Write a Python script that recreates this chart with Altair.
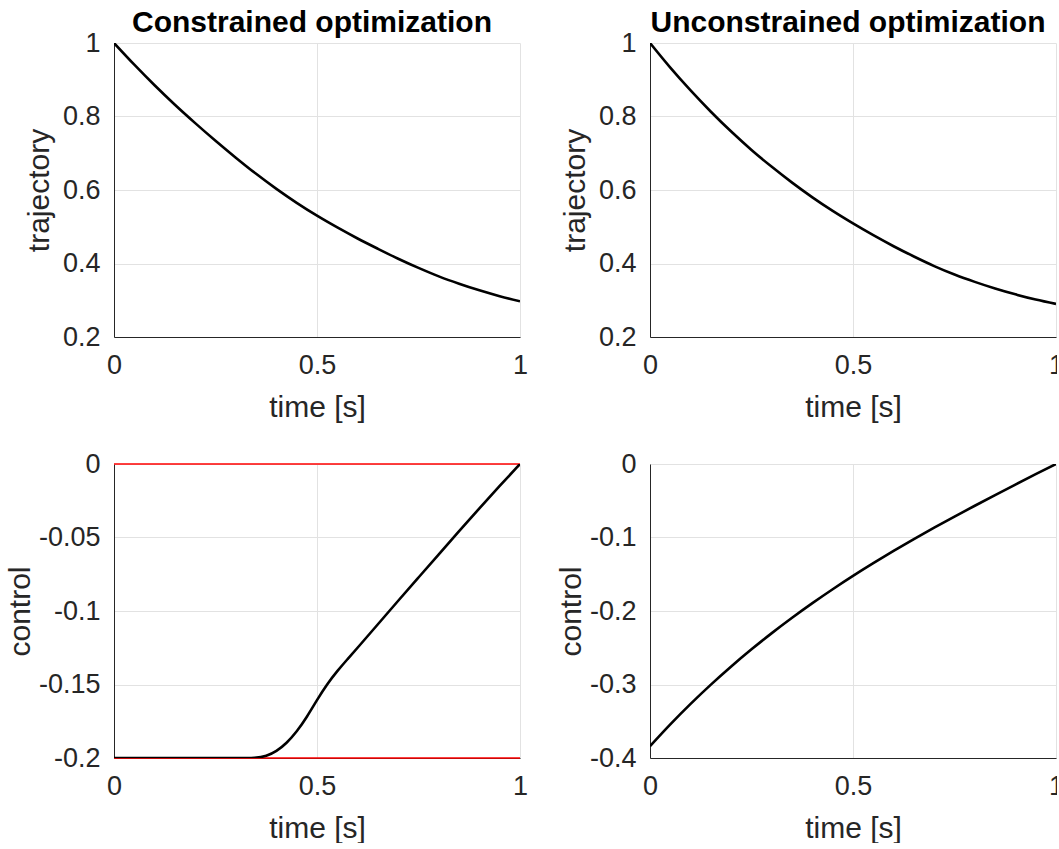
import altair as alt
import pandas as pd

# ---- data ----
time_s = [0.00, 0.05, 0.10, 0.15, 0.20, 0.25, 0.30, 0.35, 0.40, 0.45, 0.50,
          0.55, 0.60, 0.65, 0.70, 0.75, 0.80, 0.85, 0.90, 0.95, 1.00]

traj_constrained = [1.000, 0.941, 0.885, 0.832, 0.782, 0.734, 0.688, 0.644, 0.603, 0.565, 0.530,
                    0.498, 0.468, 0.440, 0.413, 0.388, 0.365, 0.345, 0.327, 0.311, 0.297]

traj_unconstrained = [1.000, 0.933, 0.871, 0.813, 0.759, 0.709, 0.663, 0.620, 0.580, 0.543, 0.509,
                      0.477, 0.447, 0.419, 0.393, 0.370, 0.350, 0.332, 0.316, 0.302, 0.290]

ctrl_con_time = [0.00, 0.10, 0.20, 0.30, 0.35, 0.375, 0.40, 0.425, 0.45, 0.475, 0.50,
                 0.525, 0.55, 0.575, 0.60, 0.65, 0.70, 0.75, 0.80, 0.85, 0.90, 0.95, 1.00]
ctrl_constrained = [-0.2000, -0.2000, -0.2000, -0.2000, -0.2000, -0.1988, -0.1955, -0.1900, -0.1822,
                    -0.1722, -0.1605, -0.1497, -0.1408, -0.1328, -0.1250, -0.1090, -0.0930, -0.0772,
                    -0.0614, -0.0457, -0.0301, -0.0149, 0.0000]

ctrl_unconstrained = [-0.3840, -0.3543, -0.3264, -0.3002, -0.2755, -0.2522, -0.2301, -0.2092, -0.1893,
                      -0.1704, -0.1523, -0.1350, -0.1183, -0.1022, -0.0867, -0.0716, -0.0568, -0.0423,
                      -0.0280, -0.0139, 0.0000]

control_limits = [-0.2, 0.0]

titles = ["Constrained optimization", "Unconstrained optimization"]
x_ticks = [0, 0.5, 1]
traj_ticks = [0.2, 0.4, 0.6, 0.8, 1.0]
ctrl_con_ticks = [-0.2, -0.15, -0.1, -0.05, 0]
ctrl_unc_ticks = [-0.4, -0.3, -0.2, -0.1, 0]

FONT = "Liberation Sans"
TXT = "#262626"
W, H = 406, 294


def label_expr(fmt):
    return f"(datum.value < 0 ? '-' : '') + format(abs(datum.value), '{fmt}')"


def panel(times, values, y_title, y_domain, y_ticks, fmt, title_pad, title=None, limits=None,
          interp="monotone"):
    df = pd.DataFrame({"t": times, "v": values})
    x = alt.X("t:Q",
              scale=alt.Scale(domain=[0, 1], nice=False, zero=False),
              axis=alt.Axis(values=x_ticks, title="time [s]", labelExpr=label_expr(".1~f")))
    y = alt.Y("v:Q",
              scale=alt.Scale(domain=y_domain, nice=False, zero=False),
              axis=alt.Axis(values=y_ticks, title=y_title, labelExpr=label_expr(fmt),
                            titlePadding=title_pad))
    line = alt.Chart(df).mark_line(color="black", strokeWidth=2.6, interpolate=interp,
                                   clip=True).encode(x=x, y=y)
    layers = []
    if limits is not None:
        lim_df = pd.DataFrame({"v": limits})
        layers.append(alt.Chart(lim_df).mark_rule(color="#ff0000", strokeWidth=1.5).encode(
            y=alt.Y("v:Q", scale=alt.Scale(domain=y_domain, nice=False, zero=False))))
    layers.append(line)
    ch = alt.layer(*layers).properties(width=W, height=H)
    if title:
        ch = ch.properties(title=alt.Title(title, font=FONT, fontSize=30, fontWeight="bold",
                                           color="black", anchor="middle", frame="group",
                                           baseline="alphabetic", offset=12, dx=-5, dy=45))
    return ch


tl = panel(time_s, traj_constrained, "trajectory", [0.2, 1.0], traj_ticks, ".1~f", 8, title=titles[0])
tr = panel(time_s, traj_unconstrained, "trajectory", [0.2, 1.0], traj_ticks, ".1~f", 8, title=titles[1])
bl = panel(ctrl_con_time, ctrl_constrained, "control", [-0.2, 0.0], ctrl_con_ticks, ".2~f", 3,
           limits=control_limits, interp="basis")
br = panel(time_s, ctrl_unconstrained, "control", [-0.4, 0.0], ctrl_unc_ticks, ".1~f", 3)

chart = alt.ConcatChart(
    concat=[tl, tr, bl, br], columns=2,
    spacing=alt.RowColnumber(row=127, column=130), bounds="flush"
).properties(
    padding={"left": 5, "top": 8, "right": -7, "bottom": 0}
).configure_view(stroke=None).configure_axis(
    labelFont=FONT, labelFontSize=27, labelColor=TXT, labelFlush=False, labelOverlap=False,
    titleFont=FONT, titleFontSize=30, titleFontWeight="normal", titleColor=TXT,
    domainColor=TXT, domainWidth=1, gridColor="#e2e2e2", gridWidth=1, ticks=False,
).configure_axisX(labelPadding=15, titlePadding=14).configure_axisY(labelPadding=14)

chart.save("out.html", embed_options={"renderer": "svg", "actions": False})
